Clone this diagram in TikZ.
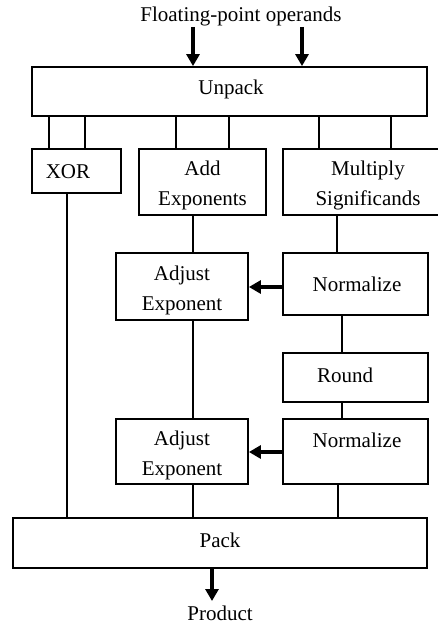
\documentclass[tikz,border=0pt]{standalone}
\usepackage{fontspec}
\setmainfont{Liberation Serif}
\usetikzlibrary{arrows.meta}
\begin{document}
\begin{tikzpicture}[x=1pt,y=-1pt,
  box/.style={draw, line width=1.8pt, rectangle, inner sep=0pt, minimum width=#1},
  txt/.style={inner sep=0pt, align=center, font=\fontsize{21}{30}\selectfont},
  conn/.style={line width=1.8pt},
  bigarrow/.style={line width=3.6pt, -{Triangle[width=13pt,length=12pt]}}
]
\useasboundingbox (0,0) rectangle (438,626);
\clip (0,0) rectangle (438,626);
\fill[white] (0,0) rectangle (438,626);

% boxes
\node[box=395pt, minimum height=49pt] (unpack) at (229.5,91.5) {};
\node[box=89pt,  minimum height=44pt] (xor)    at (76.5,171) {};
\node[box=127pt, minimum height=66pt] (add)    at (202.5,182) {};
\node[box=170pt, minimum height=66pt] (mult)   at (368,182) {};
\node[box=132pt, minimum height=67pt] (adj1)   at (182,286.5) {};
\node[box=145pt, minimum height=62pt] (norm1)  at (355.5,284) {};
\node[box=145pt, minimum height=49pt] (round)  at (355.5,377.5) {};
\node[box=132pt, minimum height=65pt] (adj2)   at (182,451.5) {};
\node[box=145pt, minimum height=65pt] (norm2)  at (355.5,451.5) {};
\node[box=414pt, minimum height=50pt] (pack)   at (220,543) {};

% texts
\node[txt] (t-in)    at (241,16)  {Floating-point operands};
\node[txt] (t-unp)   at (231,89)  {Unpack};
\node[txt] (t-xor)   at (68,172)  {XOR};
\node[txt] (t-add)   at (202.5,185) {Add\\Exponents};
\node[txt] (t-mult)  at (368,185) {Multiply\\Significands};
\node[txt] (t-adj1)  at (182,290) {Adjust\\Exponent};
\node[txt] (t-norm1) at (357,284) {Normalize};
\node[txt] (t-round) at (345,375) {Round};
\node[txt] (t-adj2)  at (182,455.5) {Adjust\\Exponent};
\node[txt] (t-norm2) at (357,440) {Normalize};
\node[txt] (t-pack)  at (220,540) {Pack};
\node[txt] (t-prod)  at (220,613) {Product};

% connectors from unpack
\draw[conn] (49,0 |- unpack.south) -- (49,0 |- xor.north);
\draw[conn] (85,0 |- unpack.south) -- (85,0 |- xor.north);
\draw[conn] (176,0 |- unpack.south) -- (176,0 |- add.north);
\draw[conn] (229,0 |- unpack.south) -- (229,0 |- add.north);
\draw[conn] (319,0 |- unpack.south) -- (319,0 |- mult.north);
\draw[conn] (391,0 |- unpack.south) -- (391,0 |- mult.north);

% other connectors
\draw[conn] (67,0 |- xor.south) -- (67,0 |- pack.north);
\draw[conn] (193,0 |- add.south) -- (193,0 |- adj1.north);
\draw[conn] (337,0 |- mult.south) -- (337,0 |- norm1.north);
\draw[conn] (342,0 |- norm1.south) -- (342,0 |- round.north);
\draw[conn] (342,0 |- round.south) -- (342,0 |- norm2.north);
\draw[conn] (193,0 |- adj1.south) -- (193,0 |- adj2.north);
\draw[conn] (193,0 |- adj2.south) -- (193,0 |- pack.north);
\draw[conn] (338,0 |- norm2.south) -- (338,0 |- pack.north);

% arrows
\coordinate (in1) at (193,27);
\coordinate (in2) at (302,27);
\coordinate (out) at (212,601);
\draw[bigarrow] (in1) -- (in1 |- unpack.north);
\draw[bigarrow] (in2) -- (in2 |- unpack.north);
\draw[bigarrow] (0,287 -| norm1.west) -- (0,287 -| adj1.east);
\draw[bigarrow] (0,452 -| norm2.west) -- (0,452 -| adj2.east);
\draw[bigarrow] (out |- pack.south) -- (out);
\end{tikzpicture}
\end{document}
